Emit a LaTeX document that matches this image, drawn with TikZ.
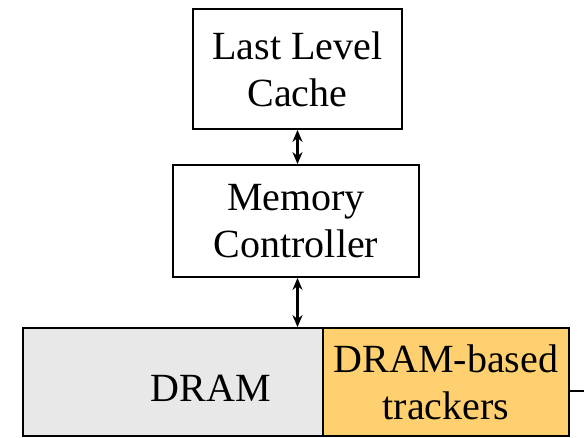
\documentclass[tikz,border=0pt]{standalone}
\usepackage{fontspec}
\setmainfont{Liberation Serif}
\usetikzlibrary{arrows.meta}
\definecolor{dramgray}{RGB}{232,232,232}
\definecolor{trackgold}{RGB}{255,208,112}
\begin{document}
\begin{tikzpicture}[x=1pt,y=-1pt,
  blk/.style={draw=black, line width=1.8pt, rectangle, inner sep=0pt,
    align=center, font=\fontsize{40}{47}\selectfont},
  link/.style={line width=2.2pt, {Stealth[length=12pt,width=10pt]}-{Stealth[length=12pt,width=10pt]}},
  lbl/.style={inner sep=0pt, font=\fontsize{40}{47}\selectfont}]
\useasboundingbox (0,0) rectangle (584,437);

\node[blk, minimum width=209pt, minimum height=120pt] (llc) at (297.5,69) {Last Level\\Cache};
\node[blk, minimum width=246pt, minimum height=112pt] (mc) at (296,221) {Memory\\Controller};
\node[blk, fill=dramgray, minimum width=300pt, minimum height=108pt] (dram) at (173,382) {};
\node[blk, fill=trackgold, minimum width=246pt, minimum height=108pt] (trk) at (446,382) {DRAM-based\\trackers};
\node[lbl] (dramtext) at (211,388) {DRAM};

\draw[link] (llc.south) -- (llc.south |- mc.north);
\draw[link] (mc.south -| llc.south) -- (llc.south |- dram.north);

\coordinate (stub) at (584,391);
\draw[line width=1.6pt] (trk.east |- stub) -- (stub);
\end{tikzpicture}
\end{document}
